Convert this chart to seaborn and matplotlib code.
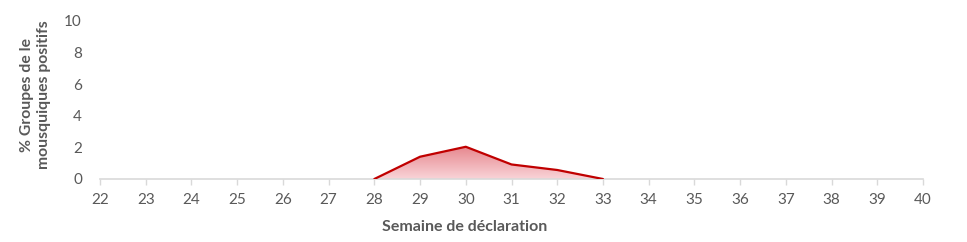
import numpy as np
import pandas as pd
import matplotlib
matplotlib.use("Agg")
import matplotlib.pyplot as plt
import seaborn as sns
from matplotlib.colors import LinearSegmentedColormap

weeks = list(range(22, 41))
pct_values = [np.nan, np.nan, np.nan, np.nan, np.nan, np.nan,
              0.0, 1.41, 2.04, 0.92, 0.57, 0.0,
              np.nan, np.nan, np.nan, np.nan, np.nan, np.nan, np.nan]
y_ticks = [0, 2, 4, 6, 8, 10]
y_label = "% Groupes de le\nmousquiques positifs"
x_label = "Semaine de déclaration"

sns.set_theme(style="white")
plt.rcParams['font.family'] = ['Lato', 'DejaVu Sans']

df = pd.DataFrame({"week": weeks, "pct": pct_values})

fig = plt.figure(figsize=(9.67, 2.42), dpi=100)
ax = fig.add_axes([100/967, 1-179/242, (923-100)/967, (179-21)/242])

gray = "#595959"
line_col = "#C00000"

d = df.dropna()
# gradient fill
poly = ax.fill_between(d["week"], d["pct"], 0, color="none", lw=0)
cmap = LinearSegmentedColormap.from_list("g", ["#F9D4D8", "#E6868D"])
ymax = d["pct"].max()
grad = np.linspace(0, 1, 256).reshape(-1, 1)
im = ax.imshow(grad, cmap=cmap, aspect="auto", origin="lower",
               extent=[d["week"].min(), d["week"].max(), 0, ymax], zorder=1)
path = poly.get_paths()[0]
im.set_clip_path(path, transform=ax.transData)

sns.lineplot(data=df, x="week", y="pct", color=line_col, lw=1.6, ax=ax, zorder=3)

ax.set_xlim(22, 40)
ax.set_ylim(0, 10)
ax.set_xticks(weeks)
ax.set_xticklabels([str(w) for w in weeks])
ax.set_yticks(y_ticks)
ax.set_yticklabels([str(t) for t in y_ticks])

for s in ["top", "right", "left"]:
    ax.spines[s].set_visible(False)
ax.spines["bottom"].set_color("#D9D9D9")
ax.spines["bottom"].set_linewidth(1.2)
ax.tick_params(axis="x", which="both", bottom=True, length=4, width=1,
               color="#D9D9D9", labelcolor=gray, labelsize=11, pad=6)
ax.tick_params(axis="y", length=0, labelcolor=gray, labelsize=11, pad=13)

ax.set_xlabel(x_label, fontsize=11.5, fontweight="bold", color=gray)
ax.xaxis.set_label_coords((465-100)/823, (179-220)/158)
ax.set_ylabel(y_label, fontsize=11.3, fontweight="bold", color=gray,
              linespacing=1.3)
ax.yaxis.set_label_coords((51-100)/823, (179-95)/158)

fig.savefig("out.png", dpi=100)
